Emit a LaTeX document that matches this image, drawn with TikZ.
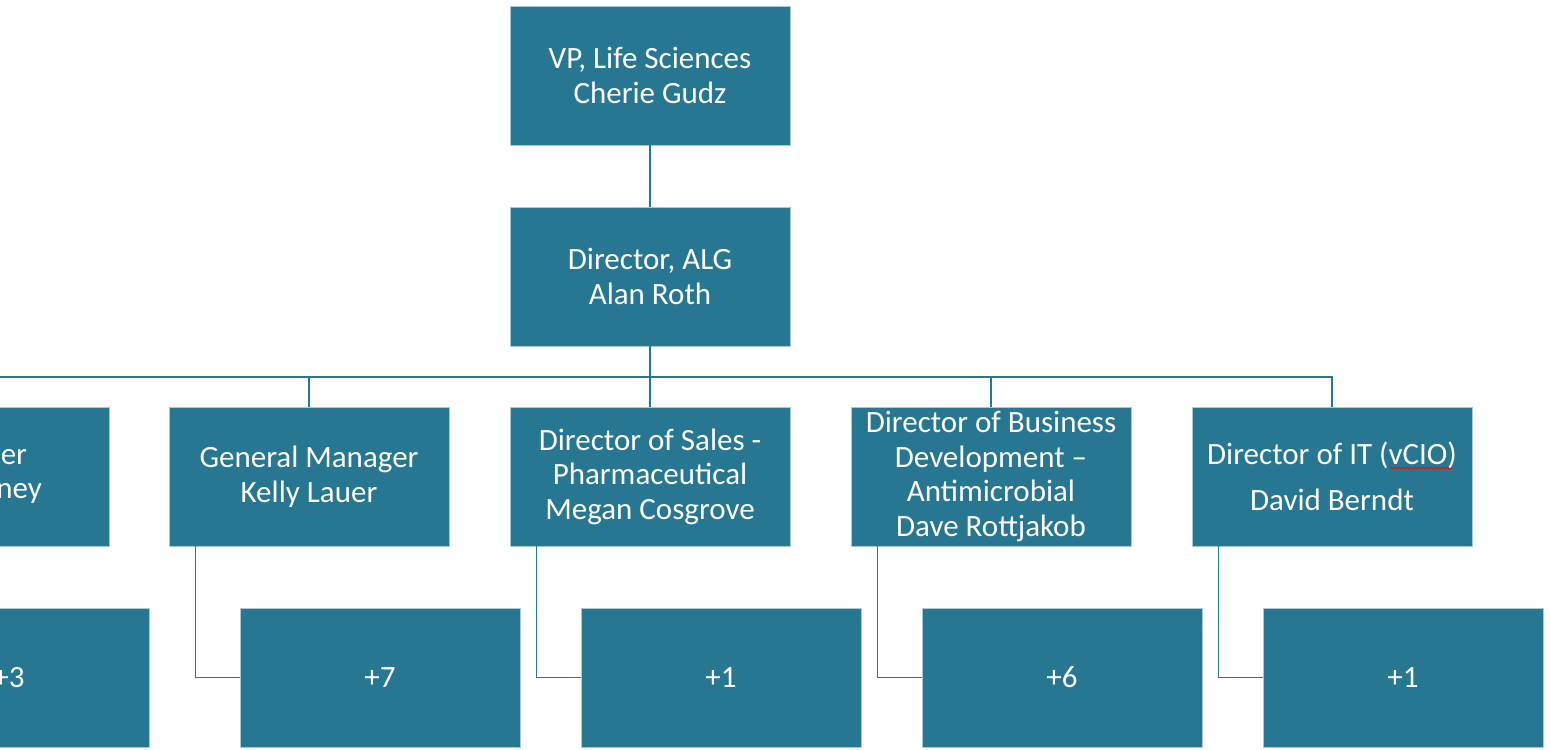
\documentclass[tikz,border=0pt]{standalone}
\usepackage{fontspec}
\setmainfont{Carlito}
\usepackage{xcolor}
\usetikzlibrary{decorations.pathmorphing}
\definecolor{teal1}{RGB}{39,119,146}

\begin{document}
\begin{tikzpicture}
        [x=0.5pt,y=-0.5pt,
         box/.style={rectangle,fill=teal1,draw=teal1!40!white,line width=0.4pt,
                     minimum width=140pt,minimum height=69.5pt,inner sep=0pt,
                     align=center,text=white,font=\fontsize{15.5}{17.25}\selectfont},
         link/.style={draw=teal1,line width=0.8pt}]

        \clip (0,0) rectangle (1550,749);

        \node[box] (vp) at (650,75.5) {VP, Life Sciences\\Cherie Gudz};
        \node[box] (alg) at (650,276.5) {Director, ALG\\Alan Roth};

        \node[box] (ops) at (-31,476.5) {\makebox[58pt][r]{er}\\\makebox[73pt][r]{ney}};
        \node[box] (gm) at (309,476.5) {General Manager\\Kelly Lauer};
        \node[box] (sales) at (650,476.5) {Director of Sales -\\Pharmaceutical\\Megan Cosgrove};
        \node[box] (bd) at (991,476.5) {Director of Business\\Development --\\Antimicrobial\\Dave Rottjakob};
        \node[box] (it) at (1332,476.5) {Director of IT (vCIO)\\[6pt]David Berndt};

        \node[box] (ops3) at (9,677.5) {+3};
        \node[box] (gm3) at (380,677.5) {+7};
        \node[box] (sales3) at (721,677.5) {+1};
        \node[box] (bd3) at (1062,677.5) {+6};
        \node[box] (it3) at (1403,677.5) {+1};

        \coordinate (bus) at (650,377);

        \draw[link] (vp) -- (alg);
        \draw[link] (alg) -- (bus) -| (ops);
        \draw[link] (alg) -- (bus) -| (gm);
        \draw[link] (alg) -- (bus) -| (sales);
        \draw[link] (alg) -- (bus) -| (bd);
        \draw[link] (alg) -- (bus) -| (it);

        \draw[link] ([xshift=13.5pt]ops.south west) |- (ops3);
        \draw[link] ([xshift=13.5pt]gm.south west) |- (gm3);
        \draw[link] ([xshift=13.5pt]sales.south west) |- (sales3);
        \draw[link] ([xshift=13.5pt]bd.south west) |- (bd3);
        \draw[link] ([xshift=13.5pt]it.south west) |- (it3);

        % spell check mark under vCIO
        \draw[red,line width=0.4pt,decorate,decoration={snake,amplitude=0.5pt,segment length=2pt}]
            ([xshift=29pt,yshift=4.2pt]it.center) -- ([xshift=60pt,yshift=4.2pt]it.center);
    \end{tikzpicture}
\end{document}
